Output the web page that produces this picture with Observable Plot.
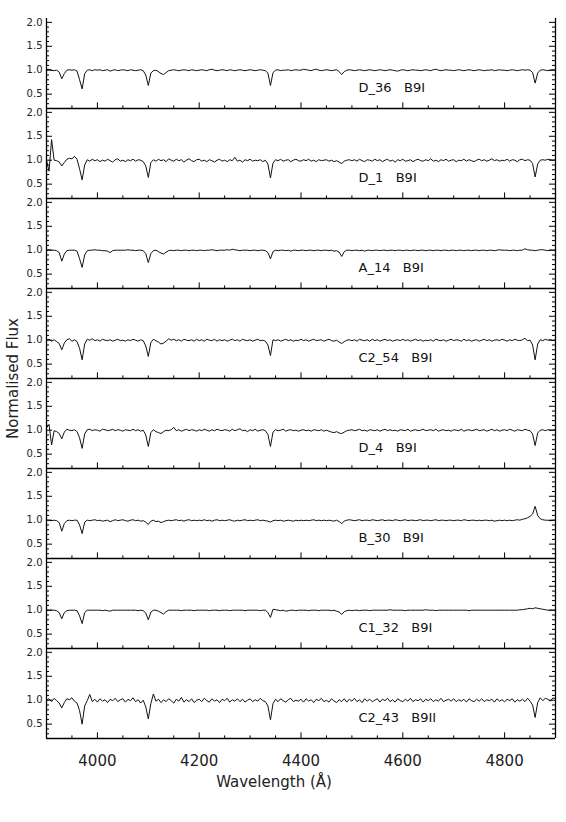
<!DOCTYPE html>
<html>
<head>
<meta charset="utf-8">
<script src="https://cdn.jsdelivr.net/npm/d3@7"></script>
<script src="https://cdn.jsdelivr.net/npm/@observablehq/plot@0.6"></script>
<style>
  html, body { margin: 0; padding: 0; background: #fff; }
</style>
</head>
<body>
<div id="chart"></div>
<script>
// ---------- data ----------
// common wavelength grid (Å), 5 Å sampling
const wavelength = d3.range(3900, 4901, 5);

const stars = ["D_36", "D_1", "A_14", "C2_54", "D_4", "B_30", "C1_32", "C2_43"];
const spectralTypes = ["B9I", "B9I", "B9I", "B9I", "B9I", "B9I", "B9I", "B9II"];

const xMajorTicks = [4000, 4200, 4400, 4600, 4800];
const xMinorTicks = [3950, 4050, 4100, 4150, 4250, 4300, 4350, 4450, 4500, 4550, 4650, 4700, 4750, 4850];
const yMajorTicks = [0.5, 1.0, 1.5, 2.0];
const yMinorTicks = [0.3, 0.4, 0.6, 0.7, 0.8, 0.9, 1.1, 1.2, 1.3, 1.4, 1.6, 1.7, 1.8, 1.9];
const xTitle = "Wavelength (Å)";
const yTitle = "Normalised Flux";

const flux_D_36 = [
  1.01,1.02,1.00,0.99,1.00,0.96,0.82,0.93,1.00,1.01,
  1.00,1.01,0.98,0.80,0.61,0.93,1.00,1.01,0.99,1.01,
  1.00,1.01,0.99,1.00,1.01,0.98,1.00,1.01,0.99,1.00,
  1.01,1.00,0.99,1.01,1.00,0.99,1.00,1.01,0.99,0.90,
  0.68,0.94,0.99,1.00,0.97,0.93,0.91,0.95,0.99,1.00,
  1.01,1.00,0.99,1.00,1.01,1.00,0.99,1.01,1.00,0.99,
  1.00,1.01,1.00,0.99,1.01,1.02,1.00,0.99,1.00,1.01,
  1.00,0.99,1.01,1.00,0.99,1.00,1.01,1.00,0.99,1.00,
  1.01,1.00,0.99,1.00,1.01,1.00,0.99,0.94,0.68,0.95,
  1.00,1.01,0.99,1.00,1.00,1.01,0.99,1.00,1.01,1.00,
  1.00,1.02,1.01,1.00,0.99,1.01,1.02,1.00,0.99,1.00,
  1.01,1.00,0.99,1.00,1.01,0.97,0.91,0.97,1.00,1.01,
  1.00,0.99,1.00,1.01,1.00,0.99,1.00,1.01,1.00,0.99,
  1.00,1.01,1.00,0.99,1.00,1.01,1.00,0.99,0.98,1.00,
  1.01,1.00,0.99,1.00,1.01,1.00,1.00,0.99,1.00,1.01,
  1.00,0.99,1.01,1.02,1.00,0.99,1.00,1.01,1.00,1.00,
  0.99,1.00,1.01,1.00,0.99,1.00,1.01,1.00,0.99,1.00,
  1.01,1.00,0.99,1.00,1.00,1.01,0.99,1.00,1.01,1.00,
  1.00,0.99,1.00,1.01,1.00,0.99,1.00,1.01,1.00,1.01,
  1.00,0.95,0.73,0.94,1.00,1.01,1.00,0.99,1.00,1.01,
  1.00
];

const flux_D_1 = [
  1.00,0.77,1.43,1.00,0.99,0.96,0.88,0.95,1.02,1.04,
  1.03,1.08,1.02,0.82,0.59,0.90,1.01,0.98,1.02,0.99,
  1.01,0.97,1.00,0.98,1.02,0.99,0.96,1.01,1.03,0.98,
  1.00,0.97,1.01,0.99,1.02,0.98,1.01,1.00,0.97,0.88,
  0.64,0.95,1.01,0.98,1.02,0.99,1.01,0.97,1.03,1.00,
  0.98,1.02,0.99,1.01,0.96,1.00,1.03,0.99,0.97,1.01,
  1.02,0.98,1.00,0.97,1.01,0.99,0.96,1.00,1.02,0.98,
  1.00,0.97,1.01,0.99,1.06,0.98,1.00,0.96,1.01,0.99,
  1.02,0.98,1.00,0.99,1.01,0.97,1.00,0.92,0.63,0.94,
  1.01,0.99,1.02,0.98,1.00,1.01,0.97,1.00,1.02,0.99,
  0.98,1.01,0.99,1.02,0.98,1.00,0.97,1.01,0.99,1.00,
  1.01,0.98,1.00,0.97,0.99,0.96,0.93,0.98,1.00,1.01,
  0.99,1.01,0.98,1.02,0.99,0.97,1.01,1.00,0.98,1.02,
  0.99,1.01,0.97,1.00,1.02,0.98,1.00,0.96,1.01,0.99,
  1.02,0.98,0.99,1.01,0.97,1.00,1.02,0.99,0.98,1.01,
  0.99,1.03,0.98,1.00,0.97,1.01,0.99,1.02,0.98,1.00,
  1.01,0.97,1.00,0.99,1.02,0.98,1.01,0.99,0.97,1.00,
  1.02,0.99,1.01,0.98,1.00,1.03,0.99,1.01,0.98,1.00,
  0.99,1.02,0.98,1.01,1.00,0.97,1.01,1.02,0.99,1.01,
  1.00,0.93,0.65,0.92,1.00,1.01,1.00,1.02,1.01,1.00,
  1.01
];

const flux_A_14 = [
  1.00,1.01,1.00,1.00,0.99,0.95,0.77,0.92,0.99,1.00,
  1.00,1.00,0.98,0.82,0.64,0.90,0.99,1.00,1.00,1.01,
  1.00,1.00,0.99,0.99,0.98,0.95,0.99,1.00,1.00,1.00,
  1.00,1.00,1.01,1.00,1.00,0.99,1.00,1.00,0.99,0.93,
  0.74,0.93,0.99,1.00,0.97,0.94,0.92,0.96,0.99,1.00,
  0.99,1.00,1.00,0.99,1.00,1.00,0.99,1.00,1.00,0.99,
  1.00,1.00,0.99,1.00,1.00,1.01,1.00,0.99,1.00,1.00,
  1.00,1.01,1.00,1.02,1.01,1.00,0.99,1.00,1.00,1.00,
  0.99,1.00,1.00,0.99,1.00,1.00,0.99,0.95,0.82,0.97,
  1.00,0.99,1.00,1.00,0.99,1.00,0.98,1.00,1.00,0.99,
  1.00,1.00,0.99,1.00,1.00,0.99,1.00,1.00,0.99,1.00,
  1.00,0.99,1.00,0.98,0.99,0.96,0.87,0.97,1.00,1.00,
  0.99,1.00,1.00,0.99,1.00,0.98,1.00,1.00,0.99,1.00,
  1.00,0.99,1.00,1.00,0.99,1.00,1.00,0.99,1.00,1.00,
  0.99,1.00,1.00,0.99,1.00,1.00,0.99,1.00,1.00,0.99,
  1.00,1.00,0.99,1.00,1.00,0.99,1.00,1.00,0.99,1.00,
  1.00,0.99,1.00,1.00,0.99,1.00,1.00,0.99,1.00,1.00,
  0.99,1.00,1.00,0.99,1.00,1.00,0.99,1.00,1.01,1.00,
  1.00,1.00,0.99,1.00,1.00,0.99,1.00,1.00,1.03,1.01,
  1.00,1.00,0.99,1.00,1.01,1.01,1.00,0.99,1.00,1.00,
  1.00
];

const flux_C2_54 = [
  1.00,1.02,0.98,1.01,0.97,0.93,0.80,0.94,1.01,1.03,
  0.98,1.01,0.97,0.83,0.59,0.92,1.02,1.00,1.03,0.99,
  1.01,0.98,1.02,1.00,0.99,1.01,0.98,1.00,1.02,0.99,
  1.00,0.98,1.01,0.99,1.02,1.00,0.98,1.01,0.99,0.88,
  0.66,0.95,1.02,0.99,0.96,0.92,0.94,0.98,1.03,1.00,
  1.02,0.99,1.01,0.98,1.02,1.00,0.99,1.01,0.98,1.02,
  0.99,1.01,0.98,1.02,1.00,0.99,1.02,0.98,1.01,0.99,
  1.01,0.98,1.00,1.02,0.99,1.01,0.98,1.02,1.00,0.99,
  1.01,0.98,1.00,1.02,0.99,1.00,0.98,0.90,0.68,1.01,
  0.99,1.01,0.98,1.00,1.02,0.99,1.01,0.98,1.00,0.99,
  1.02,0.99,1.01,0.98,1.00,1.02,0.99,1.00,1.01,0.98,
  1.00,1.02,0.99,0.98,1.00,0.96,0.93,0.97,1.00,1.01,
  0.99,1.01,0.98,1.02,1.00,0.99,1.01,0.98,1.02,0.99,
  1.01,0.98,1.00,1.02,0.99,1.01,0.98,1.00,1.01,0.99,
  1.02,0.99,1.01,0.98,1.00,1.02,0.99,1.01,0.98,1.00,
  0.99,1.01,0.98,1.02,1.00,0.99,1.01,0.98,1.00,1.02,
  0.99,1.01,1.00,0.98,1.02,0.99,1.01,0.98,1.00,1.01,
  0.98,1.00,1.02,0.99,1.01,0.98,1.00,1.01,0.99,1.02,
  1.00,0.98,1.01,0.99,1.02,1.00,0.99,1.01,1.04,0.99,
  1.00,0.90,0.59,0.92,1.01,0.99,1.02,1.00,1.01,0.99,
  1.01
];

const flux_D_4 = [
  1.05,1.12,0.69,0.99,0.97,0.93,0.82,0.96,1.02,1.00,
  0.99,1.01,0.97,0.84,0.62,0.92,1.01,1.02,0.99,1.01,
  1.00,0.98,1.02,1.01,0.99,1.00,1.02,0.99,1.01,1.00,
  0.98,1.01,1.00,0.99,1.02,0.99,1.01,0.98,1.00,0.90,
  0.66,0.95,1.01,0.97,0.95,0.93,0.97,1.00,0.99,1.01,
  1.06,0.99,1.01,0.98,1.00,1.02,0.99,1.01,1.00,0.98,
  1.01,0.99,1.02,1.00,0.98,1.01,0.99,1.02,1.00,0.99,
  1.01,1.00,0.98,1.02,0.99,1.01,1.03,0.99,1.00,0.97,
  1.01,0.99,1.02,0.98,1.00,1.01,0.99,0.91,0.66,0.96,
  1.01,0.99,1.00,1.02,0.98,1.00,1.01,0.99,1.00,0.98,
  1.00,1.01,0.99,1.00,0.98,1.01,1.00,0.99,1.01,0.98,
  1.00,0.98,0.96,0.95,0.97,0.94,0.93,0.96,0.99,1.00,
  1.01,0.99,1.00,1.02,0.99,1.00,0.98,1.01,1.00,0.99,
  1.01,0.98,1.00,1.02,0.99,1.01,0.99,1.00,0.98,1.01,
  1.00,0.99,1.02,0.98,1.00,1.01,0.99,1.00,1.02,0.99,
  1.00,1.01,0.99,1.02,0.98,1.00,1.01,0.99,1.00,0.98,
  1.01,1.00,0.99,1.02,0.98,1.00,1.01,0.99,1.00,1.02,
  0.99,1.00,1.01,0.98,1.00,1.02,0.99,1.01,0.98,1.00,
  1.01,0.99,1.02,1.00,0.98,1.01,1.00,0.99,1.02,1.00,
  0.99,0.92,0.68,0.94,1.00,1.01,0.99,1.01,1.00,1.00,
  1.01
];

const flux_B_30 = [
  1.00,1.00,0.99,1.00,0.99,0.95,0.77,0.93,0.99,1.00,
  0.99,1.00,1.00,0.90,0.72,0.96,1.00,0.99,1.00,1.01,
  0.99,1.00,0.98,0.99,1.00,0.97,0.99,1.01,0.99,1.00,
  1.01,0.99,0.98,1.00,1.01,0.99,1.00,0.98,0.99,0.96,
  0.91,0.98,1.00,0.97,0.98,0.95,0.97,0.99,1.00,0.99,
  1.00,1.01,0.99,1.00,0.98,1.00,1.01,0.99,1.00,0.99,
  1.00,0.99,1.01,0.99,1.00,0.98,1.00,1.01,0.99,1.00,
  0.99,1.00,1.01,0.99,0.98,1.00,0.99,1.00,1.01,0.99,
  1.00,0.99,1.00,1.01,0.99,1.00,0.99,0.98,0.96,0.99,
  1.00,0.99,1.00,0.98,0.99,1.00,0.99,0.98,1.00,0.99,
  1.00,0.99,1.00,0.99,1.00,1.01,0.99,1.00,0.99,1.00,
  0.99,1.00,0.99,0.98,1.00,0.97,0.93,0.98,1.00,1.01,
  1.00,0.99,1.00,1.01,0.99,1.00,1.00,0.99,1.01,1.00,
  0.99,1.00,1.01,0.99,1.00,1.00,0.99,1.01,1.00,0.99,
  1.00,1.01,0.99,1.00,1.00,0.99,1.00,1.01,0.99,1.00,
  1.00,0.99,1.00,1.01,0.99,1.00,1.00,0.99,1.00,1.00,
  0.99,1.00,1.00,0.99,1.01,1.00,0.99,1.00,1.00,0.99,
  1.00,0.99,1.00,1.00,0.99,1.00,0.98,0.99,1.00,0.99,
  1.00,0.99,1.00,0.99,1.00,1.01,1.00,1.02,1.03,1.05,
  1.08,1.13,1.29,1.10,1.03,1.01,1.00,1.00,0.99,1.00,
  1.00
];

const flux_C1_32 = [
  1.00,1.00,1.00,1.00,0.99,0.95,0.82,0.95,0.99,1.00,
  1.00,1.00,0.99,0.88,0.72,0.95,1.00,1.00,1.00,1.00,
  1.00,1.00,0.99,1.00,0.99,0.98,1.00,1.00,1.00,1.00,
  1.00,1.00,1.00,1.00,1.00,1.00,0.99,1.00,0.99,0.94,
  0.80,0.96,1.00,1.00,0.98,0.95,0.92,0.97,1.00,1.00,
  1.00,1.00,1.00,0.99,1.00,1.00,1.00,1.00,0.99,1.00,
  1.00,1.00,1.00,1.00,0.99,1.00,1.00,1.00,0.99,1.00,
  1.00,1.00,0.99,1.00,1.00,1.00,1.00,1.00,0.99,1.00,
  1.00,1.00,1.00,1.00,0.99,1.00,1.00,0.95,0.85,1.02,
  1.01,1.00,0.99,1.00,0.98,0.99,1.00,1.00,0.99,1.00,
  1.00,1.00,1.00,0.99,1.00,1.00,1.00,0.99,1.00,1.00,
  1.00,1.00,0.99,1.00,0.98,0.96,0.91,0.97,0.99,1.00,
  0.99,1.00,1.00,0.99,1.00,1.00,1.00,0.99,1.00,1.00,
  1.00,1.00,1.00,1.00,1.00,1.01,1.00,1.00,1.00,1.00,
  1.00,0.99,1.00,1.00,1.00,1.00,1.00,1.00,1.00,1.01,
  1.00,1.00,1.00,0.99,1.00,1.00,1.00,1.00,1.00,1.00,
  1.00,1.00,1.00,1.00,1.00,1.00,0.99,1.00,1.00,1.00,
  1.00,1.00,1.00,1.00,1.00,1.00,1.00,1.00,1.00,1.00,
  1.00,1.00,1.00,1.00,1.00,1.00,1.01,1.01,1.02,1.03,
  1.04,1.03,1.05,1.04,1.03,1.02,1.01,1.00,1.00,1.00,
  1.00
];

const flux_C2_43 = [
  1.00,1.03,0.97,1.04,0.99,0.94,0.84,0.95,1.03,1.01,
  1.05,0.98,0.94,0.78,0.50,0.88,0.99,1.12,0.97,1.02,
  0.96,1.03,0.98,1.01,0.95,1.02,0.99,1.04,0.97,1.01,
  1.03,0.96,1.02,0.99,1.05,0.97,1.01,0.94,1.00,0.86,
  0.61,0.93,1.13,0.98,1.02,0.95,1.01,0.97,1.03,0.99,
  0.94,1.02,0.98,1.06,0.96,1.01,0.97,1.03,0.95,1.00,
  1.02,0.97,1.04,0.99,0.96,1.03,0.98,1.01,0.95,1.02,
  0.99,1.04,0.96,1.01,0.98,1.03,0.97,1.02,0.96,1.00,
  1.03,0.97,1.01,0.98,1.04,0.99,0.97,0.88,0.59,0.93,
  1.02,0.97,1.03,0.99,0.96,1.01,1.04,0.97,1.00,0.98,
  1.02,0.96,1.03,0.98,1.01,0.95,1.02,0.99,1.04,0.97,
  1.00,0.96,1.03,0.98,0.95,1.01,0.97,1.03,0.96,1.02,
  0.98,1.04,0.97,1.01,0.95,1.03,0.98,1.02,0.97,1.00,
  1.03,0.96,1.02,0.99,1.04,0.97,1.01,0.96,1.03,0.99,
  0.97,1.02,0.98,1.04,0.97,1.01,0.99,1.03,0.96,1.02,
  0.99,1.03,0.97,1.01,0.98,1.04,0.97,1.00,1.02,0.98,
  1.03,0.97,1.01,0.98,1.02,0.96,1.03,0.99,0.97,1.02,
  0.98,1.03,0.97,1.01,0.99,1.02,0.96,1.03,0.98,1.01,
  0.97,1.02,0.99,1.03,0.96,1.01,0.98,1.02,0.97,1.04,
  0.98,0.90,0.64,0.95,1.05,0.99,1.04,1.02,0.98,1.05,
  1.03
];

const fluxes = [flux_D_36, flux_D_1, flux_A_14, flux_C2_54, flux_D_4, flux_B_30, flux_C1_32, flux_C2_43];

// ---------- build tables ----------
const rows = [];
stars.forEach((s, i) => {
  fluxes[i].forEach((f, j) => rows.push({star: s, wavelength: wavelength[j], flux: f}));
});
const labels = stars.map((s, i) => ({star: s, text: s + "\u00a0\u00a0\u00a0" + spectralTypes[i]}));

// ---------- layout ----------
const W = 566, H = 822;
const mL = 46, mR = 11, mT = 16, mB = 83;
const plotW = W - mL - mR;
const panelH = (H - mT - mB) / stars.length;
const majorLen = 6, minorLen = 3;
const font = "'DejaVu Sans', sans-serif";

const chart = Plot.plot({
  width: W,
  height: H,
  marginLeft: mL,
  marginRight: mR,
  marginTop: mT,
  marginBottom: mB,
  style: {fontFamily: font, background: "#fff", color: "#000"},
  x: {domain: [3900, 4900]},
  y: {domain: [0.2, 2.08]},
  fy: {domain: stars, padding: 0},
  marks: [
    Plot.axisFy({anchor: "left", ticks: [], label: yTitle, labelAnchor: "center", labelOffset: 39, fontSize: 15, tickSize: 0, fill: "#222", style: "letter-spacing:1.4px"}),
    Plot.axisY(yMajorTicks, {anchor: "left", tickSize: 0, tickPadding: 4, fontSize: 10, tickFormat: d3.format(".1f"), label: null, fill: "#222"}),
    Plot.axisX(xMajorTicks, {anchor: "bottom", tickSize: 0, tickPadding: 17, fontSize: 15, tickFormat: d3.format("d"), label: null, fill: "#222"}),
    // x-axis title, only in the bottom panel
    Plot.text([xTitle], {fy: [stars[stars.length - 1]], x: [4347], frameAnchor: "bottom", dy: 48, fontSize: 15, fill: "#222", text: d => d}),
    // spectra
    Plot.line(rows, {x: "wavelength", y: "flux", fy: "star", stroke: "#111", strokeWidth: 1}),
    // panel frame: bottom, left, right
    Plot.ruleY([0.2], {stroke: "#000", strokeWidth: 1.3}),
    Plot.ruleX([3900, 4900], {stroke: "#000", strokeWidth: 1.3}),
    // inward x ticks on each panel's bottom edge
    Plot.tickX(xMajorTicks, {x: d => d, insetTop: panelH - majorLen, stroke: "#000"}),
    Plot.tickX(xMinorTicks, {x: d => d, insetTop: panelH - minorLen, stroke: "#000"}),
    // inward y ticks on left and right
    Plot.tickY(yMajorTicks, {y: d => d, insetRight: plotW - majorLen, stroke: "#000"}),
    Plot.tickY(yMinorTicks, {y: d => d, insetRight: plotW - minorLen, stroke: "#000"}),
    Plot.tickY(yMajorTicks, {y: d => d, insetLeft: plotW - majorLen, stroke: "#000"}),
    Plot.tickY(yMinorTicks, {y: d => d, insetLeft: plotW - minorLen, stroke: "#000"}),
    // star labels
    Plot.text(labels, {fy: "star", text: "text", x: 4513, y: 0.63, textAnchor: "start", fontSize: 13, fill: "#111", style: "letter-spacing:1.2px"})
  ]
});
document.getElementById("chart").appendChild(chart);
</script>
</body>
</html>
